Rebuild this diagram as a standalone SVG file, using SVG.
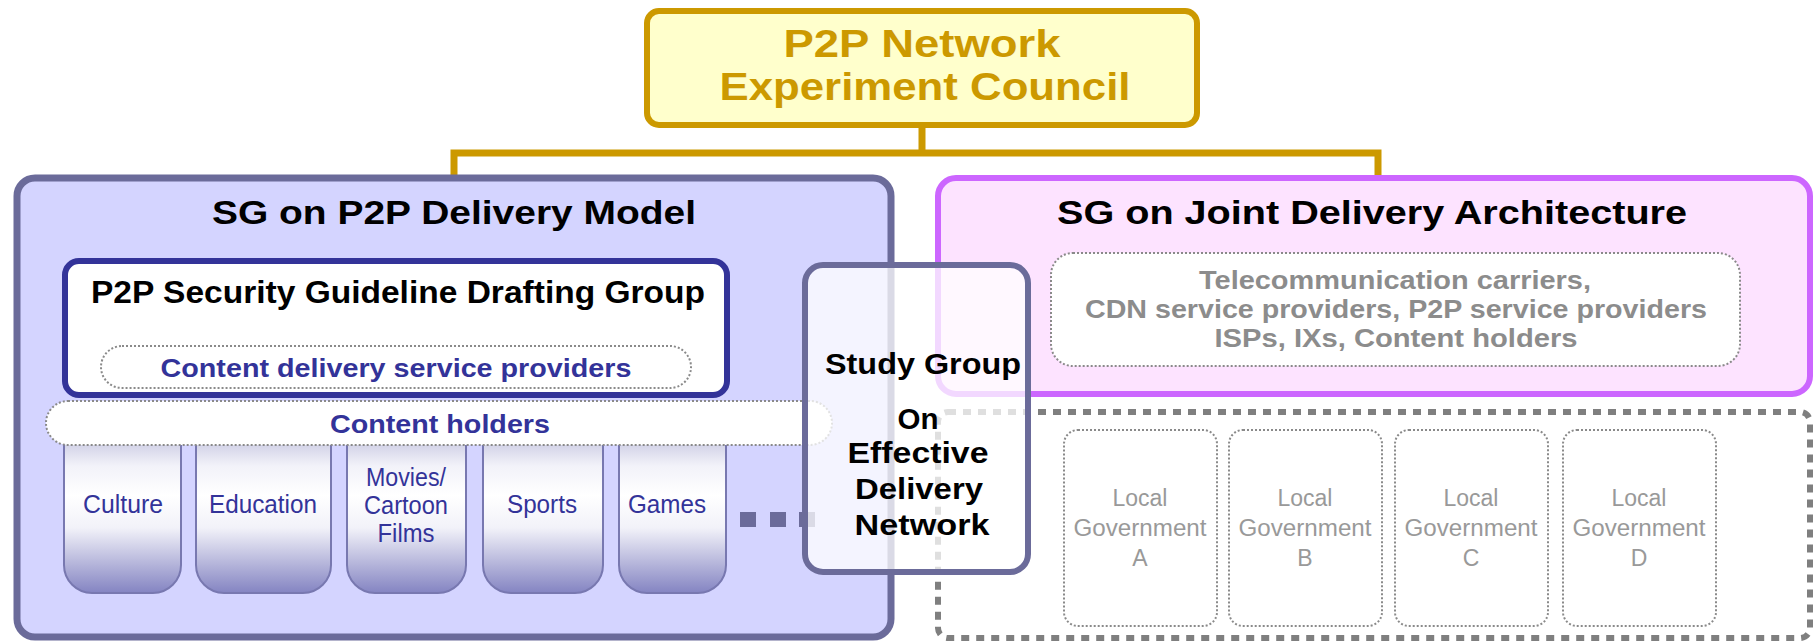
<svg xmlns="http://www.w3.org/2000/svg" width="1814" height="643" viewBox="0 0 1814 643">
<defs>
<linearGradient id="tabGrad" x1="0" y1="0" x2="0" y2="1">
<stop offset="0" stop-color="#BEBEDC"/>
<stop offset="0.22" stop-color="#F2F2F9"/>
<stop offset="0.4" stop-color="#FFFFFF"/>
<stop offset="0.6" stop-color="#F2F2F9"/>
<stop offset="1" stop-color="#8484C2"/>
</linearGradient>
<style>
.b{font-family:"Liberation Sans",Arial,sans-serif;font-weight:bold;text-anchor:middle}
.gold{fill:none;stroke:#CC9900;stroke-width:7}
.dot{fill:#FFFFFF;stroke:#8A8A8A;stroke-width:2;stroke-dasharray:2 2}
.tab{fill:url(#tabGrad);stroke:#7878B0;stroke-width:2}
.tabt{font-family:"Liberation Sans",Arial,sans-serif;font-size:25px;fill:#333399;text-anchor:middle}
.gov{font-family:"Liberation Sans",Arial,sans-serif;font-size:23px;fill:#999999;text-anchor:middle}
.sq{fill:#6B6B9A}
</style>
</defs>

<g id="connectors">
<path class="gold" d="M922 126 V153 M454 153 H1378 M454 149.5 V180 M1378 149.5 V180"/>
</g>

<g id="council">
<rect x="647" y="11" width="550" height="114" rx="12" fill="#FFFFCC" stroke="#CC9900" stroke-width="6"/>
<text class="b" x="922" y="57" font-size="38" fill="#CC9900" textLength="277" lengthAdjust="spacingAndGlyphs">P2P Network</text>
<text class="b" x="925" y="100" font-size="38" fill="#CC9900" textLength="411" lengthAdjust="spacingAndGlyphs">Experiment Council</text>
</g>

<g id="sg-p2p-delivery-model">
<rect x="17" y="178" width="874" height="459" rx="18" fill="#D4D4FF" stroke="#6B6B9A" stroke-width="7"/>
<text class="b" x="454" y="224" font-size="33" fill="#000" textLength="484" lengthAdjust="spacingAndGlyphs">SG on P2P Delivery Model</text>
</g>

<g id="security-guideline-group">
<rect x="65" y="261" width="662" height="134" rx="14" fill="#FFFFFF" stroke="#333399" stroke-width="6"/>
<text class="b" x="398" y="303" font-size="31" fill="#000" textLength="614" lengthAdjust="spacingAndGlyphs">P2P Security Guideline Drafting Group</text>
<rect class="dot" x="101" y="346" width="590" height="42" rx="21"/>
<text class="b" x="396" y="377" font-size="26" fill="#333399" textLength="471" lengthAdjust="spacingAndGlyphs">Content delivery service providers</text>
</g>

<g id="tab-culture">
<path class="tab" d="M64 430 V565 A28 28 0 0 0 92 593 H153 A28 28 0 0 0 181 565 V430"/>
<text class="tabt" x="123" y="513" textLength="80" lengthAdjust="spacingAndGlyphs">Culture</text>
</g>
<g id="tab-education">
<path class="tab" d="M196 430 V565 A28 28 0 0 0 224 593 H303 A28 28 0 0 0 331 565 V430"/>
<text class="tabt" x="263" y="513" textLength="108" lengthAdjust="spacingAndGlyphs">Education</text>
</g>
<g id="tab-movies">
<path class="tab" d="M347 430 V565 A28 28 0 0 0 375 593 H438 A28 28 0 0 0 466 565 V430"/>
<text class="tabt" x="406" y="486" textLength="80" lengthAdjust="spacingAndGlyphs">Movies/</text>
<text class="tabt" x="406" y="514" textLength="84" lengthAdjust="spacingAndGlyphs">Cartoon</text>
<text class="tabt" x="406" y="542" textLength="57" lengthAdjust="spacingAndGlyphs">Films</text>
</g>
<g id="tab-sports">
<path class="tab" d="M483 430 V565 A28 28 0 0 0 511 593 H575 A28 28 0 0 0 603 565 V430"/>
<text class="tabt" x="542" y="513" textLength="70" lengthAdjust="spacingAndGlyphs">Sports</text>
</g>
<g id="tab-games">
<path class="tab" d="M619 430 V565 A28 28 0 0 0 647 593 H698 A28 28 0 0 0 726 565 V430"/>
<text class="tabt" x="667" y="513" textLength="78" lengthAdjust="spacingAndGlyphs">Games</text>
</g>

<g id="content-holders">
<rect class="dot" x="46" y="401" width="786" height="44" rx="22"/>
<text class="b" x="440" y="433" font-size="26" fill="#333399" textLength="220" lengthAdjust="spacingAndGlyphs">Content holders</text>
</g>

<g id="ellipsis">
<rect class="sq" x="740" y="512" width="16" height="15"/>
<rect class="sq" x="770" y="512" width="16" height="15"/>
<rect class="sq" x="799" y="512" width="16" height="15"/>
</g>

<g id="sg-joint-delivery-architecture">
<rect x="938" y="178" width="872" height="216" rx="18" fill="#FDE3FF" stroke="#CC66FF" stroke-width="6"/>
<text class="b" x="1372" y="224" font-size="33" fill="#000" textLength="630" lengthAdjust="spacingAndGlyphs">SG on Joint Delivery Architecture</text>
<rect class="dot" x="1051" y="253" width="689" height="113" rx="22"/>
<text class="b" x="1395" y="289" font-size="26" fill="#8C8C8C" textLength="392" lengthAdjust="spacingAndGlyphs">Telecommunication carriers,</text>
<text class="b" x="1396" y="318" font-size="26" fill="#8C8C8C" textLength="622" lengthAdjust="spacingAndGlyphs">CDN service providers, P2P service providers</text>
<text class="b" x="1396" y="347" font-size="26" fill="#8C8C8C" textLength="363" lengthAdjust="spacingAndGlyphs">ISPs, IXs, Content holders</text>
</g>

<g id="local-governments">
<rect x="938" y="412" width="872" height="226" rx="10" fill="none" stroke="#7F7F7F" stroke-width="6" stroke-dasharray="8 7"/>
</g>
<g id="local-gov-a">
<rect class="dot" x="1064" y="430" width="153" height="196" rx="14"/>
<text class="gov" x="1140" y="506">Local</text>
<text class="gov" x="1140" y="536" textLength="133" lengthAdjust="spacingAndGlyphs">Government</text>
<text class="gov" x="1140" y="566">A</text>
</g>
<g id="local-gov-b">
<rect class="dot" x="1229" y="430" width="153" height="196" rx="14"/>
<text class="gov" x="1305" y="506">Local</text>
<text class="gov" x="1305" y="536" textLength="133" lengthAdjust="spacingAndGlyphs">Government</text>
<text class="gov" x="1305" y="566">B</text>
</g>
<g id="local-gov-c">
<rect class="dot" x="1395" y="430" width="153" height="196" rx="14"/>
<text class="gov" x="1471" y="506">Local</text>
<text class="gov" x="1471" y="536" textLength="133" lengthAdjust="spacingAndGlyphs">Government</text>
<text class="gov" x="1471" y="566">C</text>
</g>
<g id="local-gov-d">
<rect class="dot" x="1563" y="430" width="153" height="196" rx="14"/>
<text class="gov" x="1639" y="506">Local</text>
<text class="gov" x="1639" y="536" textLength="133" lengthAdjust="spacingAndGlyphs">Government</text>
<text class="gov" x="1639" y="566">D</text>
</g>

<g id="study-group">
<rect x="805" y="265" width="223" height="307" rx="18" fill="#FFFFFF" fill-opacity="0.75" stroke="#6B6B9A" stroke-width="6"/>
<text class="b" x="923" y="374" font-size="29" fill="#000" textLength="196" lengthAdjust="spacingAndGlyphs">Study Group</text>
<text class="b" x="918" y="429" font-size="29" fill="#000" textLength="41" lengthAdjust="spacingAndGlyphs">On</text>
<text class="b" x="918" y="463" font-size="29" fill="#000" textLength="141" lengthAdjust="spacingAndGlyphs">Effective</text>
<text class="b" x="919" y="499" font-size="29" fill="#000" textLength="128" lengthAdjust="spacingAndGlyphs">Delivery</text>
<text class="b" x="922" y="535" font-size="29" fill="#000" textLength="135" lengthAdjust="spacingAndGlyphs">Network</text>
</g>
</svg>
